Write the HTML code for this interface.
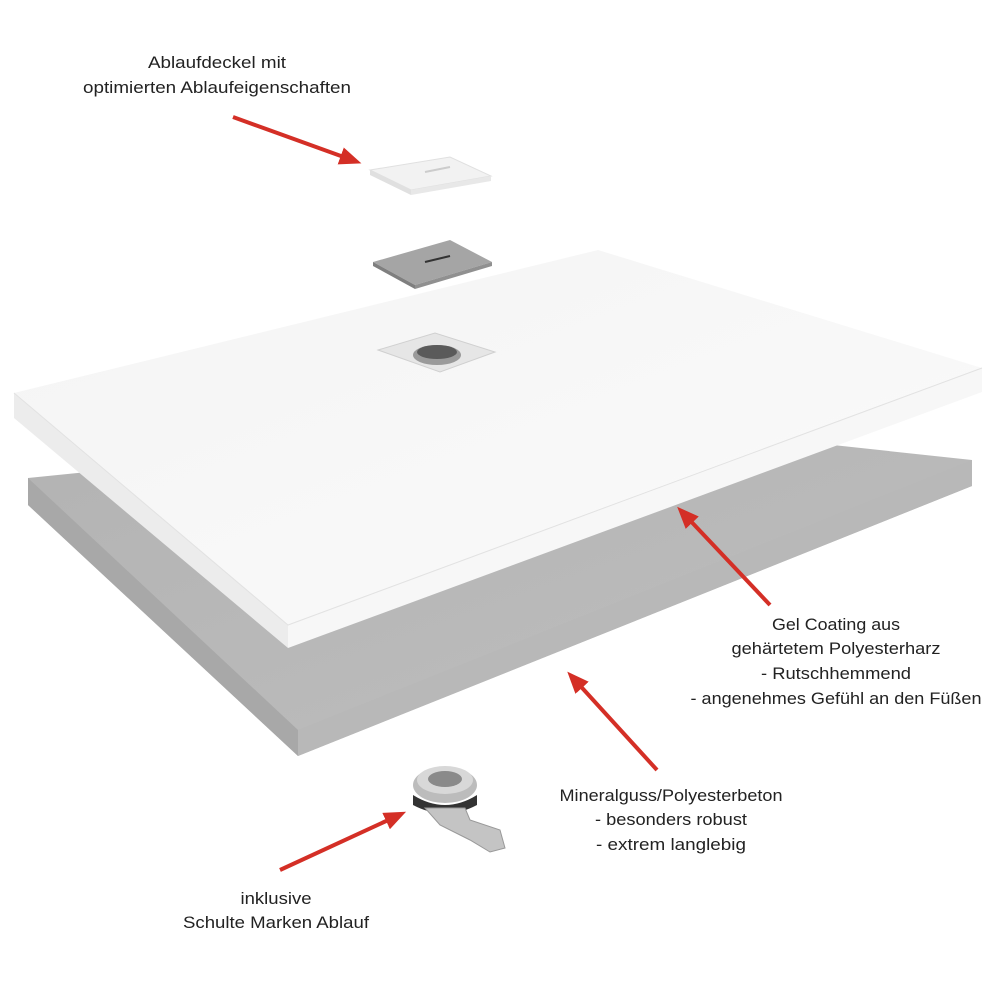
<!DOCTYPE html>
<html><head><meta charset="utf-8"><style>
html,body{margin:0;padding:0;background:#fff;}
svg{display:block}
text{font-family:"Liberation Sans",sans-serif;font-size:16.5px;fill:#222;}
</style></head><body>
<svg width="1000" height="1000" viewBox="0 0 1000 1000" xmlns="http://www.w3.org/2000/svg">
<defs>
<linearGradient id="gtop" x1="0" y1="0" x2="1" y2="1">
<stop offset="0" stop-color="#f4f4f4"/><stop offset="1" stop-color="#fbfbfb"/></linearGradient>
<linearGradient id="gray" x1="0" y1="0" x2="1" y2="1">
<stop offset="0" stop-color="#b3b3b3"/><stop offset="1" stop-color="#bebebe"/></linearGradient>
<marker id="ah" markerWidth="24" markerHeight="20" refX="12" refY="10" orient="auto" markerUnits="userSpaceOnUse">
<path d="M0,1 L22,10 L0,19 Z" fill="#d42f26"/></marker>
</defs>

<!-- grey base -->
<polygon points="28,478 600,420 972,460 972,486 298,756 28,505" fill="url(#gray)"/>
<polygon points="28,478 298,730 298,756 28,505" fill="#a8a8a8"/>
<polygon points="298,730 972,460 972,486 298,756" fill="#b8b8b8"/>

<!-- white slab -->
<polygon points="14,393 598,250 982,368 288,625" fill="url(#gtop)"/>
<polygon points="14,393 288,625 288,648 14,418" fill="#ececec"/>
<polygon points="288,625 982,368 982,392 288,648" fill="#f7f7f7"/>
<polyline points="14,393 288,625 982,368" fill="none" stroke="#e2e2e2" stroke-width="1"/>

<!-- hole in slab -->
<polygon points="378,350 435,333 495,352 440,372" fill="#e6e6e6" stroke="#d0d0d0"/>
<ellipse cx="437" cy="355" rx="24" ry="10" fill="#9a9a9a"/>
<ellipse cx="437" cy="352" rx="20" ry="7" fill="#5a5a5a"/>

<!-- grey plate -->
<polygon points="373,262 450,240 492,262 415,285" fill="#a5a5a5"/>
<polygon points="373,262 415,285 415,289 373,266" fill="#7f7f7f"/>
<polygon points="415,285 492,262 492,266 415,289" fill="#909090"/>
<line x1="425" y1="262" x2="450" y2="256" stroke="#333" stroke-width="2"/>

<!-- white cover -->
<polygon points="370,170 450,157 491,176 411,190" fill="#f2f2f2" stroke="#e0e0e0"/>
<polygon points="370,170 411,190 411,195 370,175" fill="#e0e0e0"/>
<polygon points="411,190 491,176 491,181 411,195" fill="#e8e8e8"/>
<line x1="425" y1="172" x2="450" y2="167" stroke="#ccc" stroke-width="2"/>

<!-- drain fitting -->
<ellipse cx="445" cy="785" rx="32" ry="18" fill="#bcbcbc"/>
<ellipse cx="445" cy="780" rx="28" ry="14" fill="#d8d8d8"/>
<ellipse cx="445" cy="779" rx="17" ry="8" fill="#8a8a8a"/>
<path d="M413,795 Q445,815 477,795 L477,805 Q445,822 413,805 Z" fill="#333"/>
<path d="M425,808 L465,808 L470,820 L500,830 L505,848 L490,852 L470,840 L440,825 Z" fill="#c4c4c4" stroke="#999"/>

<!-- arrows -->
<g stroke="#d42f26" stroke-width="4" fill="none" marker-end="url(#ah)">
<line x1="233" y1="117" x2="352" y2="160"/>
<line x1="770" y1="605" x2="684" y2="514"/>
<line x1="657" y1="770" x2="574" y2="679"/>
<line x1="280" y1="870" x2="397" y2="816"/>
</g>

<!-- labels -->
<g text-anchor="middle">
<text x="217" y="68" textLength="138" lengthAdjust="spacingAndGlyphs">Ablaufdeckel mit</text>
<text x="217" y="93" textLength="268" lengthAdjust="spacingAndGlyphs">optimierten Ablaufeigenschaften</text>
<text x="836" y="630" textLength="128" lengthAdjust="spacingAndGlyphs">Gel Coating aus</text>
<text x="836" y="654" textLength="209" lengthAdjust="spacingAndGlyphs">gehärtetem Polyesterharz</text>
<text x="836" y="679" textLength="150" lengthAdjust="spacingAndGlyphs">- Rutschhemmend</text>
<text x="836" y="704" textLength="291" lengthAdjust="spacingAndGlyphs">- angenehmes Gefühl an den Füßen</text>
<text x="671" y="801" textLength="223" lengthAdjust="spacingAndGlyphs">Mineralguss/Polyesterbeton</text>
<text x="671" y="825" textLength="152" lengthAdjust="spacingAndGlyphs">- besonders robust</text>
<text x="671" y="850" textLength="150" lengthAdjust="spacingAndGlyphs">- extrem langlebig</text>
<text x="276" y="904" textLength="71" lengthAdjust="spacingAndGlyphs">inklusive</text>
<text x="276" y="928" textLength="186" lengthAdjust="spacingAndGlyphs">Schulte Marken Ablauf</text>
</g>
</svg>
</body></html>
